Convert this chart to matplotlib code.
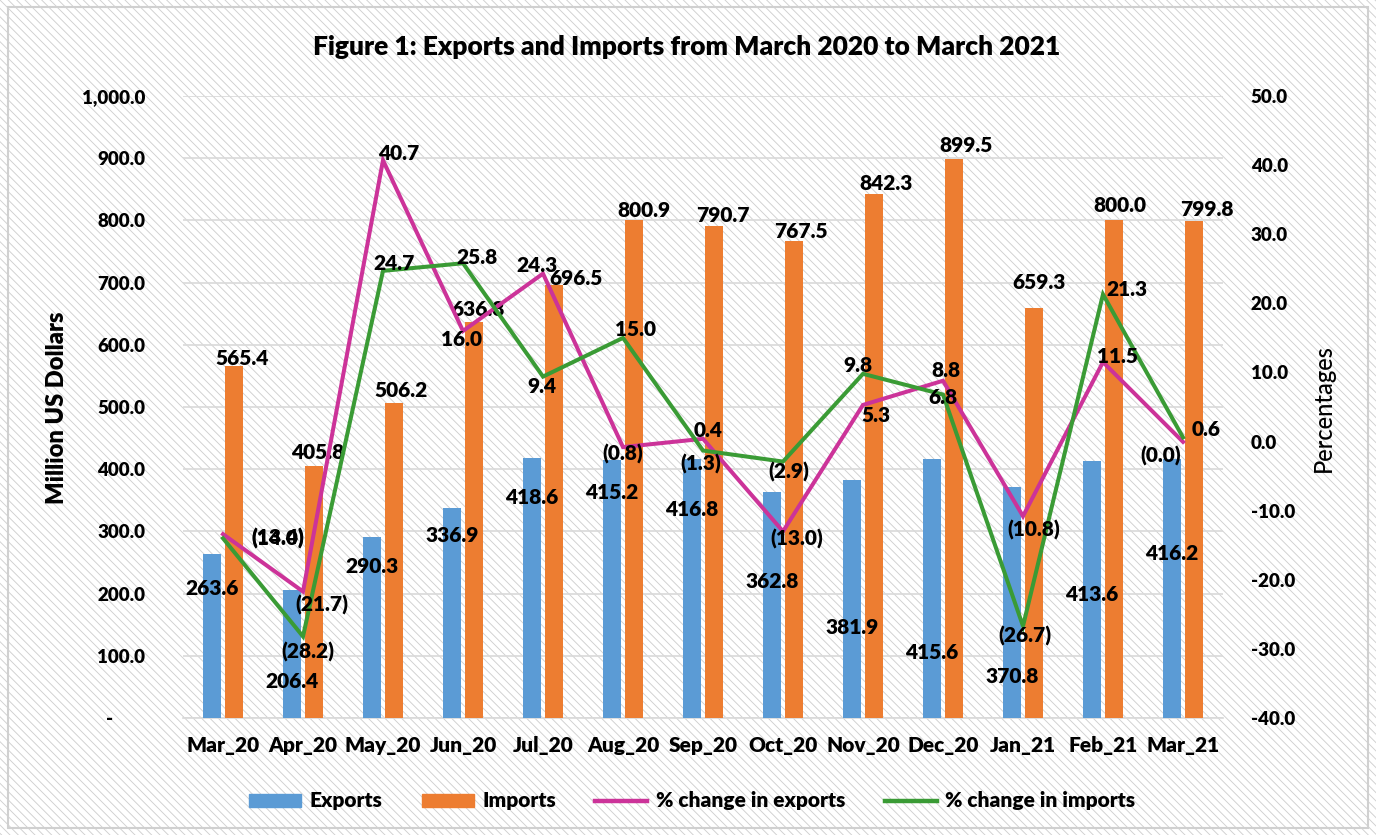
import matplotlib
matplotlib.use('Agg')
import matplotlib.pyplot as plt
from matplotlib.patches import Rectangle, Patch
from matplotlib.lines import Line2D
import numpy as np

# ---------------- data ----------------
months = ['Mar_20', 'Apr_20', 'May_20', 'Jun_20', 'Jul_20', 'Aug_20', 'Sep_20',
          'Oct_20', 'Nov_20', 'Dec_20', 'Jan_21', 'Feb_21', 'Mar_21']
exports = [263.6, 206.4, 290.3, 336.9, 418.6, 415.2, 416.8, 362.8, 381.9, 415.6, 370.8, 413.6, 416.2]
imports = [565.4, 405.8, 506.2, 636.8, 696.5, 800.9, 790.7, 767.5, 842.3, 899.5, 659.3, 800.0, 799.8]
exports_pct = [-13.4, -21.7, 40.7, 16.0, 24.3, -0.8, 0.4, -13.0, 5.3, 8.8, -10.8, 11.5, -0.04]
imports_pct = [-14.0, -28.2, 24.7, 25.8, 9.4, 15.0, -1.3, -2.9, 9.8, 6.8, -26.7, 21.3, 0.6]

left_ticks = [0, 100, 200, 300, 400, 500, 600, 700, 800, 900, 1000]
right_ticks = [-40, -30, -20, -10, 0, 10, 20, 30, 40, 50]

# ---------------- label placement (layout only) ----------------
exp_label_y = [209, 58, 243, 293, 354, 362, 336, 219, 146, 105, 66, 198, 264]
imp_label_dx = [8, 4, 7, 4, 22, 10, 9, 7, 12, 12, 5, 6, 13]
imp_label_dy = [8, 13, 13, 12, 6, 9, 11, 9, 11, 13, 25, 15, 11]
exp_pct_off = [(55, -4), (19, -13), (16, 7), (-1, -9), (-6, 8), (0, -7), (5, 8),
               (14, -8), (13, -11), (3, 10), (11, -14), (15, 6), (-22, -14)]
imp_pct_off = [(55, -1), (5, -16), (11, 7), (14, 6), (-1, -10), (12, 8), (-2, -13),
               (6, -10), (-5, 8), (0, -3), (2, -10), (24, 5), (23, 8)]

# ---------------- style ----------------
plt.rcParams['font.family'] = ['Lato', 'DejaVu Sans']
plt.rcParams['hatch.linewidth'] = 0.65
C_EXP = '#5B9BD5'
C_IMP = '#ED7D31'
C_EPCT = '#CC3399'
C_IPCT = '#3A9B35'
GRID = '#d9d9d9'
FS_TICK = 13.5
FS_LAB = 15
BW = 800

def pfmt(v):
    s = f"{abs(v):.1f}"
    return f"({s})" if v < 0 else s

W, H = 1376, 835
fig = plt.figure(figsize=(W / 100, H / 100), dpi=100)

bg = Rectangle((0, 0), 1, 1, transform=fig.transFigure, facecolor='white',
               edgecolor='#cfcfcf', hatch='\\\\\\\\', lw=0, zorder=-10)
fig.add_artist(bg)
border = Rectangle((8 / W, 7 / H), 1360 / W, 821 / H, transform=fig.transFigure,
                   fill=False, edgecolor='#d0d0d0', lw=1.5, zorder=-9)
fig.add_artist(border)

ax = fig.add_axes([183 / W, (H - 718) / H, 1040 / W, 622 / H])
ax.patch.set_alpha(0)
x = np.arange(len(months))
bw = 0.225
off = 0.1375
ax.bar(x - off, exports, bw, color=C_EXP, zorder=3)
ax.bar(x + off, imports, bw, color=C_IMP, zorder=3)
ax.set_xlim(-0.5, len(months) - 0.5)
ax.set_ylim(0, 1000)
ax.set_yticks(left_ticks)
ax.set_yticklabels(['-' + '\u2007' * 3 if t == 0 else f"{t:,.1f}" for t in left_ticks],
                   fontsize=FS_TICK, fontweight=BW)
ax.set_xticks(x)
ax.set_xticklabels(months, fontsize=15, fontweight=BW)
ax.tick_params(axis='y', length=0, pad=27)
ax.tick_params(axis='x', length=0, pad=13)
ax.yaxis.grid(True, color=GRID, lw=1.2, zorder=0)
ax.set_axisbelow(True)
for s in ['left', 'right', 'top']:
    ax.spines[s].set_visible(False)
ax.spines['bottom'].set_color(GRID)
ax.spines['bottom'].set_linewidth(1.2)

for i in range(len(months)):
    ax.text(x[i] - off, exp_label_y[i], f"{exports[i]:.1f}", ha='center', va='center',
            fontsize=FS_LAB, fontweight=BW, zorder=6)
    ax.annotate(f"{imports[i]:.1f}", xy=(x[i] + off, imports[i]),
                xytext=(imp_label_dx[i], imp_label_dy[i]), textcoords='offset pixels',
                ha='center', va='center', fontsize=FS_LAB, fontweight=BW, zorder=6)

ax2 = ax.twinx()
ax2.set_ylim(-40, 50)
ax2.set_yticks(right_ticks)
ax2.set_yticklabels([f"{t:.1f}" for t in right_ticks], fontsize=FS_TICK, fontweight=BW)
ax2.tick_params(axis='y', length=0, pad=20)
for lab in ax2.get_yticklabels():
    lab.set_horizontalalignment('left')
for s in ax2.spines.values():
    s.set_visible(False)
ax2.plot(x, exports_pct, color=C_EPCT, lw=2.9, solid_joinstyle='miter', zorder=4)
ax2.plot(x, imports_pct, color=C_IPCT, lw=2.9, solid_joinstyle='miter', zorder=4)
for i in range(len(months)):
    ax2.annotate(pfmt(exports_pct[i]), xy=(x[i], exports_pct[i]), xytext=exp_pct_off[i],
                 textcoords='offset pixels', ha='center', va='center',
                 fontsize=FS_LAB, fontweight=BW, zorder=7)
    ax2.annotate(pfmt(imports_pct[i]), xy=(x[i], imports_pct[i]), xytext=imp_pct_off[i],
                 textcoords='offset pixels', ha='center', va='center',
                 fontsize=FS_LAB, fontweight=BW, zorder=7)

fig.text(687 / W, 1 - 47 / H, 'Figure 1: Exports and Imports from March 2020 to March 2021',
         ha='center', va='center', fontsize=19, fontweight=BW)
fig.text(57 / W, 1 - 408 / H, 'Million US Dollars', rotation=90, ha='center', va='center',
         fontsize=17, fontweight=BW)
fig.text(1323 / W, 1 - 408 / H, 'Percentages', rotation=90, ha='center', va='center',
         fontsize=17, fontweight='medium')

handles = [Patch(color=C_EXP), Patch(color=C_IMP),
           Line2D([], [], color=C_EPCT, lw=3.2), Line2D([], [], color=C_IPCT, lw=3.2)]
labels = ['Exports', 'Imports', '% change in exports', '% change in imports']
fig.legend(handles, labels, loc='center', bbox_to_anchor=(692 / W, 34 / H), ncol=4,
           frameon=False, handlelength=2.5, handleheight=0.6, columnspacing=1.9,
           handletextpad=0.4, prop={'size': 15, 'weight': BW})

fig.savefig('out.png', dpi=100)
